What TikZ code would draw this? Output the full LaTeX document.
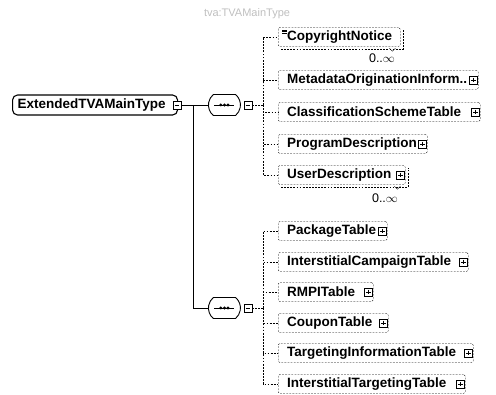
\documentclass[tikz,border=0pt]{standalone}
\usepackage{fontspec}
\setsansfont{Liberation Sans}
\usetikzlibrary{shapes.misc}
\tikzset{
  dotline/.style={dash pattern=on 1.8pt off 1.3pt},
  elem/.style={draw,dotline,rounded corners=1.5pt,fill=white,anchor=west,
    minimum height=19pt,inner xsep=9pt,inner ysep=0pt,text width=#1,align=left,
    font=\sffamily\bfseries\fontsize{13.5}{14}\selectfont},
  expander/.style={draw,solid,fill=white,minimum size=8pt,inner sep=0pt},
  plus/.style={expander,path picture={
    \draw ([xshift=1.6pt]path picture bounding box.west) -- ([xshift=-1.6pt]path picture bounding box.east)
          ([yshift=-1.6pt]path picture bounding box.north) -- ([yshift=1.6pt]path picture bounding box.south);}},
  minus/.style={expander,path picture={
    \draw ([xshift=1.6pt]path picture bounding box.west) -- ([xshift=-1.6pt]path picture bounding box.east);}},
  seq/.style={draw,line width=0.9pt,rounded rectangle,rounded rectangle arc length=100,
    minimum width=32pt,minimum height=21pt,inner sep=0pt,anchor=west,fill=white},
  seqmark/.style={line width=0.8pt},
  bus/.style={dotline},
  occurs/.style={font=\sffamily\fontsize{12.5}{12.5}\selectfont,inner sep=0pt},
}
\begin{document}
\begin{tikzpicture}[x=1pt,y=-1pt]
\useasboundingbox (0,0) rectangle (496,395);
% root element and the two sequences
\node[draw,line width=1.1pt,rounded corners=5pt,anchor=west,minimum height=20pt,inner xsep=5pt,
      text width=155pt,align=left,font=\sffamily\bfseries\fontsize{13.5}{14}\selectfont]
      (root) at (12,105) {ExtendedTVAMainType};
\node[minus] (mroot) at (177,105) {};
\node[seq] (seq1) at (208,105) {};
\node[minus] (mseq1) at ([xshift=7pt]seq1.east) {};
\node[seq] (seq2) at (208,308) {};
\node[minus] (mseq2) at ([xshift=7pt]seq2.east) {};
\foreach \s in {seq1,seq2}{
  \draw[seqmark] ([xshift=-10pt]\s.center) -- ([xshift=10pt]\s.center);
  \foreach \d in {-3.6,0,3.6} \fill ([xshift=\d pt]\s.center) circle (1.6pt);
}
\coordinate (trunk) at (193,105);
\coordinate (bus1) at (263,105);
\coordinate (bus2) at (263,308);
\node[gray!50,font=\sffamily\fontsize{11}{11}\selectfont] (title) at (247,14) {tva:TVAMainType};
% first sequence
\path
(278,37)  node[elem=104pt] (copy)  {CopyrightNotice}
(278,80)  node[elem=182pt] (meta)  {MetadataOriginationInform..}
(278,112) node[elem=184pt] (class) {ClassificationSchemeTable}
(278,144) node[elem=131pt] (prog)  {ProgramDescription}
(278,175) node[elem=109pt] (user)  {UserDescription};
% second sequence
\path
(278,231) node[elem=91pt]  (pack)  {PackageTable}
(278,262) node[elem=172pt] (icamp) {InterstitialCampaignTable}
(278,292) node[elem=77pt]  (rmpi)  {RMPITable}
(278,323) node[elem=92pt]  (coup)  {CouponTable}
(278,353) node[elem=177pt] (targ)  {TargetingInformationTable}
(278,384) node[elem=169pt] (itarg) {InterstitialTargetingTable};
\foreach \n in {meta,class,prog,user,pack,icamp,rmpi,coup,targ,itarg}
  \node[plus] (p\n) at ([xshift=-5pt]\n.east) {};
% repeated elements
\foreach \n in {copy,user}{
  \draw[dotline] ([shift={(3pt,-2.5pt)}]\n.south west) -| ([shift={(2.5pt,-3pt)}]\n.north east);
  \draw ([shift={(-11pt,-1.5pt)}]\n.south east) -- ++(3pt,-3pt) -- ++(3pt,3pt);
}
\node[occurs] (ocopy) at (382,58) {0..$\infty$};
\node[occurs] (ouser) at (385,198) {0..$\infty$};
\foreach \k in {0,1,2}
  \draw[line width=0.4pt] ([shift={(4pt,{-2.5pt-\k*1.6pt})}]copy.north west) -- ++(5pt,0);
% connectors
\draw (mroot.east) -- (seq1.west);
\draw (trunk) |- (seq2.west);
\draw[bus] (mseq1.east) -- (bus1);
\draw[bus] (mseq2.east) -- (bus2);
\foreach \n in {copy,meta,class,prog,user} \draw[bus] (bus1) |- (\n.west);
\foreach \n in {pack,icamp,rmpi,coup,targ,itarg} \draw[bus] (bus2) |- (\n.west);
\end{tikzpicture}
\end{document}
